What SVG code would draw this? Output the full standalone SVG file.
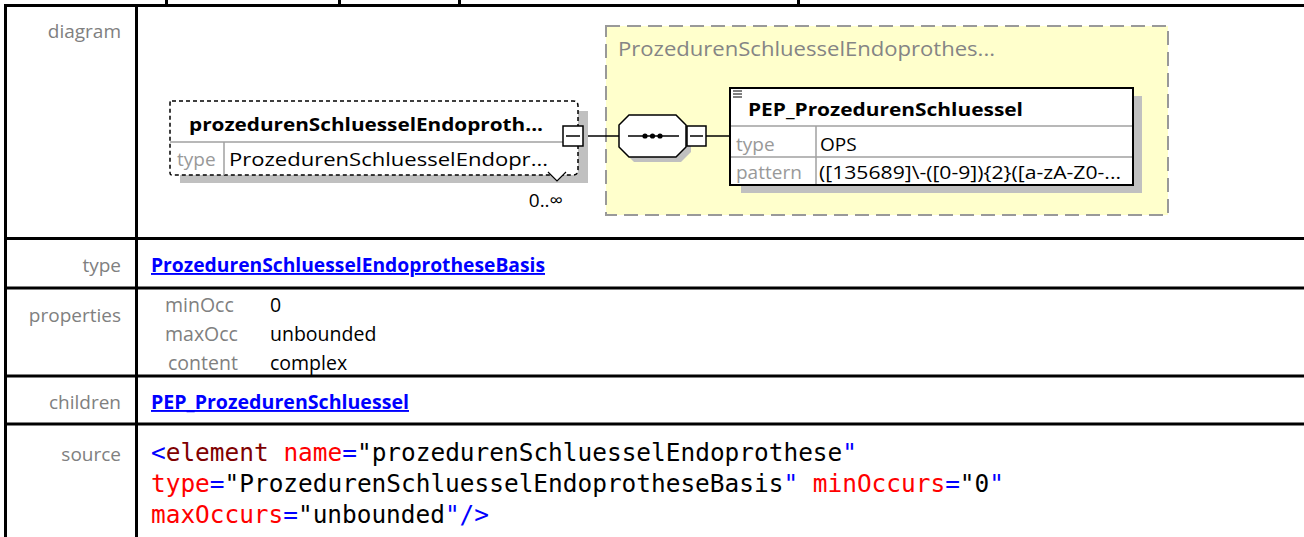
<svg xmlns="http://www.w3.org/2000/svg" width="1304" height="537" viewBox="0 0 1304 537">
<style>
.grid{stroke:#000;stroke-width:3;fill:none}
.lbl{font-family:"Open Sans","Noto Sans",sans-serif;font-size:19px;fill:#808080;text-anchor:end}
.pn{font-family:"Open Sans","Noto Sans",sans-serif;font-size:19.5px;fill:#808080}
.pv{font-family:"Open Sans","Noto Sans",sans-serif;font-size:19.5px;fill:#000}
.link{font-family:"Open Sans","Noto Sans",sans-serif;font-size:19px;font-weight:bold;fill:#0000ff;text-decoration:underline}
.src{font-family:"DejaVu Sans Mono","Liberation Mono",monospace;font-size:24.4px;fill:#000}
.b{fill:#0000ff}.t{fill:#800000}.r{fill:#ff0000}
.ename{font-family:"Open Sans","Noto Sans",sans-serif;font-size:18px;font-weight:bold;fill:#000}
.small{font-family:"Open Sans","Noto Sans",sans-serif;font-size:19px;fill:#000}
.sgray{font-family:"Open Sans","Noto Sans",sans-serif;font-size:19px;fill:#999}
.gtitle{font-family:"Open Sans","Noto Sans",sans-serif;font-size:20px;fill:#858585}
.shadow{fill:#c0c0c0;stroke:none}
.sep{stroke:#a0a0a0;stroke-width:1.5;fill:none}
.conn{stroke:#000;stroke-width:1.5;fill:none}
.cbox{fill:#fff;stroke:#000;stroke-width:1.5}
</style>
<rect width="1304" height="537" fill="#fff"/>
<g id="table">
<rect x="165" y="0" width="3" height="5" fill="#000"/>
<rect x="338" y="0" width="3" height="5" fill="#000"/>
<rect x="458" y="0" width="3" height="5" fill="#000"/>
<rect x="797" y="0" width="3" height="5" fill="#000"/>
<line class="grid" x1="4" y1="5.5" x2="1304" y2="5.5"/>
<line class="grid" x1="4" y1="238.5" x2="1304" y2="238.5"/>
<line class="grid" x1="4" y1="288" x2="1304" y2="288"/>
<line class="grid" x1="4" y1="376" x2="1304" y2="376"/>
<line class="grid" x1="4" y1="424" x2="1304" y2="424"/>
<line class="grid" x1="5.5" y1="4" x2="5.5" y2="537"/>
<line class="grid" x1="136.5" y1="4" x2="136.5" y2="537"/>
<text class="lbl" x="121" y="38">diagram</text>
<text class="lbl" x="121" y="272">type</text>
<text class="lbl" x="121" y="322">properties</text>
<text class="lbl" x="121" y="409">children</text>
<text class="lbl" x="121" y="461">source</text>
<text class="link" x="151" y="272" textLength="394" lengthAdjust="spacingAndGlyphs">ProzedurenSchluesselEndoprotheseBasis</text>
<text class="pn" x="165" y="312">minOcc</text>
<text class="pv" x="270" y="312">0</text>
<text class="pn" x="165" y="341">maxOcc</text>
<text class="pv" x="270" y="341">unbounded</text>
<text class="pn" x="168" y="370">content</text>
<text class="pv" x="270" y="370">complex</text>
<text class="link" x="151" y="409" textLength="258" lengthAdjust="spacingAndGlyphs">PEP_ProzedurenSchluessel</text>
<text class="src" x="151" y="461" textLength="706" lengthAdjust="spacingAndGlyphs"><tspan class="b">&lt;</tspan><tspan class="t">element</tspan> <tspan class="r">name</tspan><tspan class="b">=</tspan>"prozedurenSchluesselEndoprothese<tspan class="b">"</tspan></text>
<text class="src" x="151" y="492" textLength="853" lengthAdjust="spacingAndGlyphs"><tspan class="r">type</tspan><tspan class="b">=</tspan>"ProzedurenSchluesselEndoprotheseBasis<tspan class="b">"</tspan> <tspan class="r">minOccurs</tspan><tspan class="b">=</tspan>"0<tspan class="b">"</tspan></text>
<text class="src" x="151" y="523" textLength="338" lengthAdjust="spacingAndGlyphs"><tspan class="r">maxOccurs</tspan><tspan class="b">=</tspan>"unbounded<tspan class="b">"/&gt;</tspan></text>
</g>
<g id="group-box">
<rect x="606" y="26" width="562" height="189" fill="#ffffcc" stroke="#999" stroke-width="2" stroke-dasharray="14 7"/>
<text class="gtitle" x="618" y="56" textLength="377" lengthAdjust="spacingAndGlyphs">ProzedurenSchluesselEndoprothes...</text>
</g>
<g id="connectors">
<line class="conn" x1="583" y1="136" x2="619" y2="136"/>
<line class="conn" x1="706" y1="136" x2="730" y2="136"/>
</g>
<g id="element-prozedurenSchluesselEndoprothese">
<rect class="shadow" x="180" y="111" width="408" height="72"/>
<path d="M172,101 H573 Q578,101 578,106 V170 Q578,175 573,175 H172 Q170,175 170,173 V103 Q170,101 172,101 Z" fill="#fff" stroke="#000" stroke-width="1.5" stroke-dasharray="4 3"/>
<line class="sep" x1="170" y1="142" x2="563" y2="142"/>
<line class="sep" x1="224" y1="142" x2="224" y2="175"/>
<text class="ename" x="189" y="131" textLength="354" lengthAdjust="spacingAndGlyphs">prozedurenSchluesselEndoproth...</text>
<text class="sgray" x="177" y="166">type</text>
<text class="small" x="229" y="166" textLength="319" lengthAdjust="spacingAndGlyphs">ProzedurenSchluesselEndopr...</text>
<rect class="cbox" x="563" y="126" width="20" height="20"/>
<line class="conn" x1="566" y1="136" x2="580" y2="136"/>
<path d="M548,172 L557,181 L566,172" fill="#fff" stroke="#000" stroke-width="1.2"/>
<text class="small" x="563" y="207" text-anchor="end">0..∞</text>
</g>
<g id="sequence">
<polygon class="shadow" points="634,120 681,120 691,130 691,152 681,162 634,162 624,152 624,130"/>
<polygon points="629,115 676,115 686,125 686,147 676,157 629,157 619,147 619,125" fill="#fff" stroke="#000" stroke-width="1.5"/>
<line class="conn" x1="628" y1="136" x2="679" y2="136"/>
<circle cx="645" cy="136" r="2.6" fill="#000"/>
<circle cx="652.5" cy="136" r="2.6" fill="#000"/>
<circle cx="660" cy="136" r="2.6" fill="#000"/>
<rect class="cbox" x="687" y="126" width="19" height="20"/>
<line class="conn" x1="690" y1="136" x2="703" y2="136"/>
</g>
<g id="element-PEP_ProzedurenSchluessel">
<rect class="shadow" x="741" y="96" width="401" height="97"/>
<rect x="730" y="88" width="403" height="97" fill="#fff" stroke="#000" stroke-width="2"/>
<line x1="733" y1="91" x2="742" y2="91" stroke="#000" stroke-width="1"/>
<line x1="733" y1="94" x2="742" y2="94" stroke="#000" stroke-width="1"/>
<line x1="733" y1="97" x2="742" y2="97" stroke="#000" stroke-width="1"/>
<text class="ename" x="748" y="116" textLength="275" lengthAdjust="spacingAndGlyphs">PEP_ProzedurenSchluessel</text>
<line class="sep" x1="731" y1="126" x2="1132" y2="126"/>
<line class="sep" x1="731" y1="157" x2="1132" y2="157"/>
<line class="sep" x1="816" y1="126" x2="816" y2="184"/>
<text class="sgray" x="736" y="151">type</text>
<text class="small" x="820" y="151">OPS</text>
<text class="sgray" x="736" y="179">pattern</text>
<text class="small" x="819" y="179" textLength="302" lengthAdjust="spacingAndGlyphs">([135689]\-([0-9]){2}([a-zA-Z0-...</text>
</g>
</svg>
